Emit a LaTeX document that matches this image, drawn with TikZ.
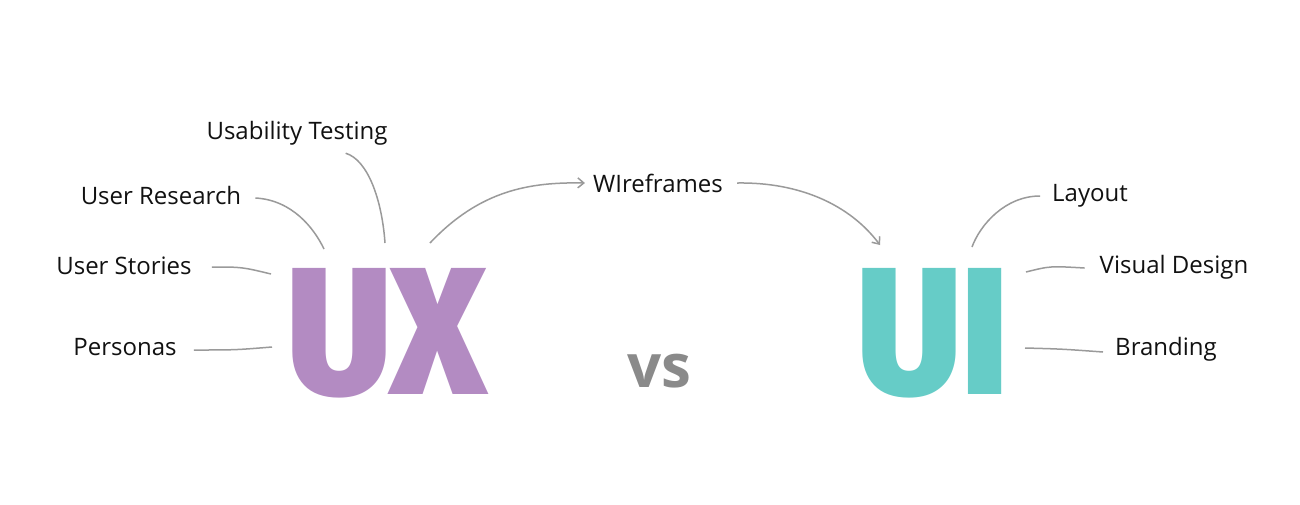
\documentclass[tikz,border=0pt]{standalone}
\usepackage{fontspec}
\setmainfont{Open Sans}
\newfontfamily\heavyfont{Fira Sans Black}
\usetikzlibrary{arrows.meta}
\definecolor{uxpurple}{HTML}{B38BC2}
\definecolor{uiteal}{HTML}{66CCC7}
\definecolor{vsgray}{HTML}{8A8A8A}
\definecolor{linegray}{HTML}{9A9A9A}
\definecolor{labelblack}{HTML}{111111}
\begin{document}
\begin{tikzpicture}[x=1pt,y=-1pt,
  lbl/.style={font=\fontsize{24}{28}\selectfont, text=labelblack, inner sep=0pt},
  conn/.style={draw=linegray, line width=1.5pt},
  arr/.style={conn, -{Straight Barb[length=6pt,width=10pt]}},
  bigletters/.style={inner sep=0pt, anchor=north west}]
\fill[white] (0,0) rectangle (1300,504);
\useasboundingbox (0,0) rectangle (1300,504);

% labels
\node[lbl] (ut) at (297,133) {Usability Testing};
\node[lbl] (ur) at (161,195) {User Research};
\node[lbl] (us) at (124,266) {User Stories};
\node[lbl] (pe) at (125,347) {Personas};
\node[lbl] (wf) at (658,183) {WIreframes};
\node[lbl] (la) at (1090,196) {Layout};
\node[lbl] (vd) at (1174,267) {Visual Design};
\node[lbl] (br) at (1166,349) {Branding};

% big letters
\node[bigletters] (ux) at (287,268) {\color{uxpurple}\resizebox{200pt}{126pt}{\heavyfont UX}};
\node[bigletters] (ui) at (857,268) {\color{uiteal}\resizebox{151pt}{126pt}{\heavyfont UI}};
\node[inner sep=0pt, font=\bfseries\fontsize{60}{64}\selectfont, text=vsgray] (vs) at (659,371) {vs};

% end points on the letters
\coordinate (ur-end) at (324,249);
\coordinate (ut-end) at (385,243);
\coordinate (us-end) at (271,274);
\coordinate (pe-end) at (272,347);
\coordinate (ux-out) at (430,243);
\coordinate (ui-in) at (880,245);
\coordinate (la-end) at (972,247);
\coordinate (vd-end) at (1026,272);
\coordinate (br-end) at (1025,348);

% connectors
\draw[conn] ([xshift=14pt,yshift=-3pt]ur.east) .. controls (292,200) and (314,228) .. (ur-end);
\draw[conn] ([xshift=-42pt,yshift=-8pt]ut.south east) .. controls (368,160) and (382,200) .. (ut-end);
\draw[conn] ([xshift=20pt,yshift=-1pt]us.east) .. controls (242,267) .. (us-end);
\draw[conn] ([xshift=17pt,yshift=-3pt]pe.east) .. controls (235,350) .. (pe-end);
\draw[arr] (ux-out) .. controls (480,190) and (530,182) .. ([xshift=-8pt]wf.west);
\draw[arr] ([xshift=14pt]wf.east) .. controls (800,182) and (850,205) .. (ui-in);
\draw[conn] ([xshift=-12pt]la.west) .. controls (1005,196) and (980,225) .. (la-end);
\draw[conn] ([xshift=-15pt,yshift=-1pt]vd.west) .. controls (1050,266) .. (vd-end);
\draw[conn] ([xshift=-12pt,yshift=-3pt]br.west) .. controls (1062,349) .. (br-end);
\end{tikzpicture}
\end{document}
